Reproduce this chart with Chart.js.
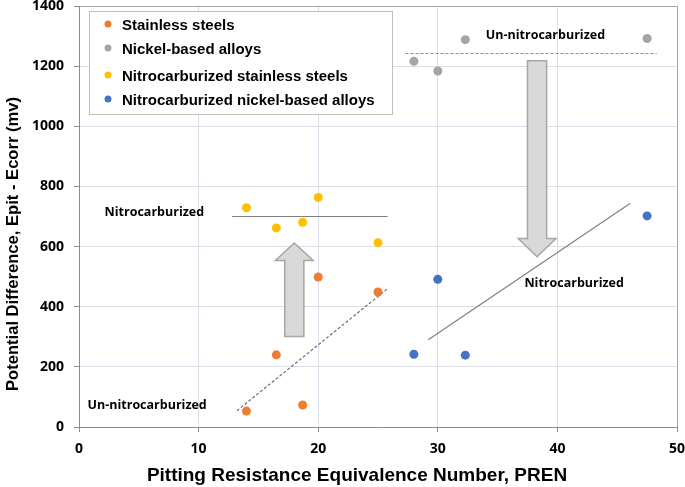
<!DOCTYPE html>
<html>
<head>
<meta charset="utf-8">
<script src="https://cdn.jsdelivr.net/npm/chart.js@4.4.1/dist/chart.umd.min.js"></script>
<style>
  html, body { margin: 0; padding: 0; background: #fff; }
  #wrap { width: 685px; height: 487px; position: relative; }
</style>
</head>
<body>
<div id="wrap"><canvas id="chart"></canvas></div>
<script>
// Measured values (PREN vs potential difference, mV)
const stainlessX = [14, 16.5, 18.7, 20, 25];
const stainlessY = [53, 240, 73, 499, 449];
const nickelX = [28, 30, 32.3, 47.5];
const nickelY = [1216, 1184, 1288, 1292];
const nitroStainlessX = [14, 16.5, 18.7, 20, 25];
const nitroStainlessY = [729, 662, 681, 763, 613];
const nitroNickelX = [28, 30, 32.3, 47.5];
const nitroNickelY = [242, 491, 239, 702];

// trend lines (end points)
const trendStainlessX = [13.2, 25.8];
const trendStainlessY = [54, 460];
const trendNitroStainlessX = [12.8, 25.8];
const trendNitroStainlessY = [700, 700];
const trendNickelX = [27.3, 48.3];
const trendNickelY = [1242, 1242];
const trendNitroNickelX = [29.2, 46.1];
const trendNitroNickelY = [290, 744];

const xTicks = [0, 10, 20, 30, 40, 50];
const yTicks = [0, 200, 400, 600, 800, 1000, 1200, 1400];

const xTitle = 'Pitting Resistance Equivalence Number, PREN';
const yTitle = 'Potential Difference, Epit - Ecorr (mv)';

const legendLabels = ['Stainless steels', 'Nickel-based alloys', 'Nitrocarburized stainless steels', 'Nitrocarburized nickel-based alloys'];
const COLORS = { orange: '#ED7D31', gray: '#A5A5A5', yellow: '#FFC000', blue: '#4472C4' };
const legendColors = [COLORS.orange, COLORS.gray, COLORS.yellow, COLORS.blue];

// text notes: [label, x, y] in data units
const notes = [
  ['Nitrocarburized', 6.3, 713],
  ['Un-nitrocarburized', 5.7, 73],
  ['Un-nitrocarburized', 39.0, 1303],
  ['Nitrocarburized', 41.4, 479],
];

// arrows: [x, yStart, yHeadBase, yTip] in data units
const arrows = [
  [18.0, 301, 554, 612],
  [38.3, 1218, 627, 566],
];

const pts = (xs, ys) => xs.map((x, i) => ({ x, y: ys[i] }));

function scatterSet(label, xs, ys, color) {
  return {
    type: 'scatter', label, data: pts(xs, ys),
    backgroundColor: color, borderColor: color,
    pointRadius: 4.5, pointHoverRadius: 4.5, borderWidth: 0, order: 1,
  };
}

function trendSet(xs, ys, color, dash) {
  return {
    type: 'line', data: pts(xs, ys), borderColor: color, borderWidth: 1.2,
    borderDash: dash, pointRadius: 0, fill: false, order: 3,
  };
}

const extras = {
  id: 'extras',
  beforeDatasetsDraw(chart) {
    const { ctx, scales: { x, y } } = chart;
    ctx.save();
    arrows.forEach(([cx, y0, yb, yt]) => {
      const px = x.getPixelForValue(cx);
      const sw = x.getPixelForValue(cx + 0.8) - px;
      const hw = x.getPixelForValue(cx + 1.58) - px;
      const p0 = y.getPixelForValue(y0), pb = y.getPixelForValue(yb), pt = y.getPixelForValue(yt);
      ctx.beginPath();
      ctx.moveTo(px - sw, p0);
      ctx.lineTo(px - sw, pb);
      ctx.lineTo(px - hw, pb);
      ctx.lineTo(px, pt);
      ctx.lineTo(px + hw, pb);
      ctx.lineTo(px + sw, pb);
      ctx.lineTo(px + sw, p0);
      ctx.closePath();
      ctx.fillStyle = '#D9D9D9';
      ctx.fill();
      ctx.strokeStyle = '#A6A6A6';
      ctx.lineWidth = 1.5;
      ctx.stroke();
    });
    ctx.restore();
  },
  afterDatasetsDraw(chart) {
    const { ctx, scales: { x, y } } = chart;
    ctx.save();
    ctx.fillStyle = '#000';
    ctx.font = 'bold 12.5px "Open Sans", sans-serif';
    ctx.textAlign = 'center';
    ctx.textBaseline = 'middle';
    notes.forEach(([t, nx, ny]) => ctx.fillText(t, x.getPixelForValue(nx), y.getPixelForValue(ny)));

    // axis titles
    ctx.font = 'bold 19px "Liberation Sans", Arial, sans-serif';
    ctx.fillText(xTitle, 357, 476);
    ctx.translate(13, 244);
    ctx.rotate(-Math.PI / 2);
    ctx.font = 'bold 16.6px "Liberation Sans", Arial, sans-serif';
    ctx.fillText(yTitle, 0, 0);
    ctx.setTransform(1, 0, 0, 1, 0, 0);

    // legend box
    ctx.fillStyle = '#fff';
    ctx.fillRect(89, 11, 303, 103);
    ctx.strokeStyle = '#BFBFBF';
    ctx.lineWidth = 1;
    ctx.strokeRect(89.5, 11.5, 303, 103);
    const rows = [26, 50, 77, 101];
    ctx.font = 'bold 15px "Liberation Sans", Arial, sans-serif';
    ctx.textAlign = 'left';
    legendLabels.forEach((lab, i) => {
      ctx.fillStyle = legendColors[i];
      ctx.beginPath();
      ctx.arc(108, rows[i] - 2, 3.5, 0, Math.PI * 2);
      ctx.fill();
      ctx.fillStyle = '#000';
      ctx.fillText(lab, 122, rows[i]);
    });
    ctx.restore();
  },
};

const gridColor = '#D9DEE8';
const tickFont = { size: 14, weight: 'bold', family: '"Open Sans", sans-serif' };

new Chart(document.getElementById('chart'), {
  data: {
    datasets: [
      scatterSet(legendLabels[0], stainlessX, stainlessY, COLORS.orange),
      scatterSet(legendLabels[1], nickelX, nickelY, COLORS.gray),
      scatterSet(legendLabels[2], nitroStainlessX, nitroStainlessY, COLORS.yellow),
      scatterSet(legendLabels[3], nitroNickelX, nitroNickelY, COLORS.blue),
      trendSet(trendStainlessX, trendStainlessY, '#6E6E6E', [3, 2]),
      trendSet(trendNitroStainlessX, trendNitroStainlessY, '#808080', []),
      trendSet(trendNickelX, trendNickelY, '#8C8C8C', [3, 2]),
      trendSet(trendNitroNickelX, trendNitroNickelY, '#808080', []),
    ],
  },
  options: {
    responsive: true,
    maintainAspectRatio: false,
    animation: false,
    layout: { padding: { top: 6, right: 8, left: 0, bottom: 0 } },
    plugins: { legend: { display: false }, tooltip: { enabled: false } },
    scales: {
      x: {
        type: 'linear', min: 0, max: 50,
        afterBuildTicks: s => { s.ticks = xTicks.map(v => ({ value: v })); },
        afterFit: s => { s.height = 60; s.paddingLeft = 0; s.paddingRight = 0; },
        ticks: { color: '#000', font: tickFont, padding: 9, maxRotation: 0, callback: v => String(v) },
        grid: {
          color: c => (c.tick && c.tick.value === 50 ? '#A6A6A6' : gridColor),
          tickColor: '#8C8C8C', tickLength: 5,
        },
        border: { color: '#8C8C8C' },
      },
      y: {
        type: 'linear', min: 0, max: 1400,
        afterBuildTicks: s => { s.ticks = yTicks.map(v => ({ value: v })); },
        afterFit: s => { s.width = 79; s.paddingTop = 0; s.paddingBottom = 0; },
        ticks: { color: '#000', font: tickFont, padding: 10, callback: v => String(v) },
        grid: {
          color: c => (c.tick && c.tick.value === 1400 ? '#A6A6A6' : gridColor),
          tickColor: '#8C8C8C', tickLength: 5,
        },
        border: { color: '#8C8C8C' },
      },
    },
  },
  plugins: [extras],
});
</script>
</body>
</html>
